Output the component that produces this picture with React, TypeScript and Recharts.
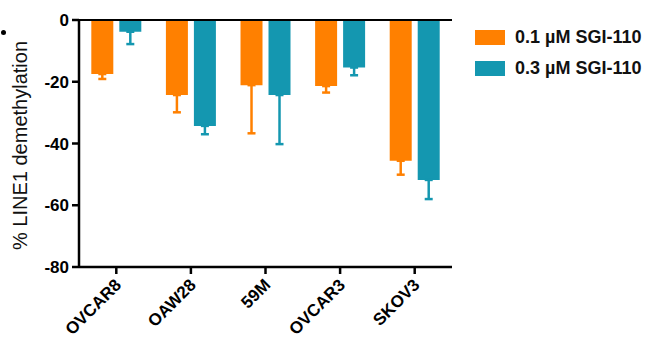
import { BarChart, Bar, XAxis, YAxis, ErrorBar, ReferenceLine } from "recharts"

const cellLines = ["OVCAR8", "OAW28", "59M", "OVCAR3", "SKOV3"]
const low = [-17.5, -24.3, -21.1, -21.4, -45.6]
const lowErr = [1.6, 5.6, 15.6, 2.1, 4.5]
const high = [-3.8, -34.3, -24.3, -15.4, -51.8]
const highErr = [4, 2.7, 15.9, 2.5, 6.2]
const yTicks = [0, -20, -40, -60, -80]

const ORANGE = "#ff8000"
const TEAL = "#1497b0"
const FONT = "'Liberation Sans', Arial, sans-serif"

const data = cellLines.map((name, i) => ({
  name,
  low: low[i],
  lowErr: [lowErr[i], 0],
  high: high[i],
  highErr: [highErr[i], 0],
}))

const legendItems = [
  { label: "0.1 µM SGI-110", color: ORANGE },
  { label: "0.3 µM SGI-110", color: TEAL },
]

function CategoryTick({ x, y, payload }: any) {
  const ax = x + 6
  const ay = y + 10
  return (
    <text
      x={ax}
      y={ay}
      transform={`rotate(-45, ${ax}, ${ay})`}
      textAnchor="end"
      fontFamily={FONT}
      fontWeight="bold"
      fontSize={17}
      fill="#000"
    >
      {payload.value}
    </text>
  )
}

function LegendBox() {
  return (
    <div style={{ position: "absolute", left: 475, top: 22, fontFamily: FONT }}>
      {legendItems.map((item) => (
        <div key={item.label} style={{ display: "flex", alignItems: "center", height: 31 }}>
          <div style={{ width: 30, height: 15, background: item.color, marginRight: 10 }} />
          <span style={{ fontWeight: "bold", fontSize: 18, color: "#111" }}>{item.label}</span>
        </div>
      ))}
    </div>
  )
}

export default function App() {
  return (
    <div style={{ position: "absolute", left: 0, top: 0, width: 649, height: 339, background: "#fff" }}>
      <div style={{ position: "absolute", left: 1, top: 30, width: 5, height: 5, borderRadius: 3, background: "#000" }} />
      <BarChart
        width={649}
        height={339}
        data={data}
        margin={{ top: 20, right: 197, left: 0, bottom: 0 }}
        barCategoryGap="16.5%"
        barGap={6}
      >
        <XAxis
          dataKey="name"
          axisLine={{ stroke: "#000", strokeWidth: 2.5 }}
          tickLine={{ stroke: "#000", strokeWidth: 2.5 }}
          tickSize={7}
          tick={<CategoryTick />}
          interval={0}
          height={72}
        />
        <YAxis
          domain={[-80, 0]}
          ticks={yTicks}
          width={79}
          axisLine={{ stroke: "#000", strokeWidth: 2.5 }}
          tickLine={{ stroke: "#000", strokeWidth: 2.5 }}
          tickSize={7}
          tickMargin={3}
          tick={{ fill: "#000", fontFamily: FONT, fontWeight: "bold", fontSize: 17 }}
          label={{
            value: "% LINE1 demethylation",
            angle: -90,
            position: "insideLeft",
            dx: 15,
            dy: 2,
            style: { textAnchor: "middle", fontFamily: FONT, fontSize: 20, fill: "#111" },
          }}
        />
        <ReferenceLine y={0} stroke="#000" strokeWidth={2} />
        <Bar dataKey="low" fill={ORANGE} isAnimationActive={false}>
          <ErrorBar dataKey="lowErr" width={4} stroke={ORANGE} strokeWidth={2.5} />
        </Bar>
        <Bar dataKey="high" fill={TEAL} isAnimationActive={false}>
          <ErrorBar dataKey="highErr" width={4} stroke={TEAL} strokeWidth={2.5} />
        </Bar>
      </BarChart>
      <LegendBox />
    </div>
  )
}
